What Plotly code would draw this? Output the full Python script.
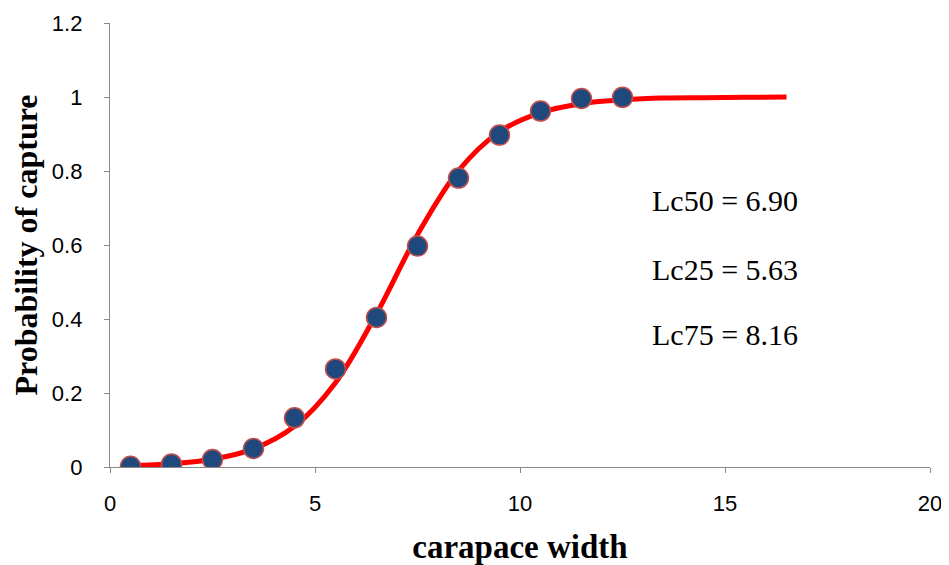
import plotly.graph_objects as go

# Observed points
obs_x = [0.5, 1.5, 2.5, 3.5, 4.5, 5.5, 6.5, 7.5, 8.5, 9.5, 10.5, 11.5, 12.5]
obs_y = [0.002, 0.008, 0.020, 0.050, 0.133, 0.265, 0.404, 0.597, 0.781, 0.897, 0.962, 0.996, 0.999]

# Fitted curve
fit_x = [0.5, 1.5, 2.5, 3.5, 4.5, 5.5, 6.5, 7.5, 8.5, 9.5, 10.5, 11.5, 12.5, 13.5, 14.5, 15.5, 16.5]
fit_y = [0.004, 0.009, 0.021, 0.049, 0.110, 0.228, 0.414, 0.628, 0.801, 0.906, 0.958, 0.982, 0.992, 0.997, 0.998, 0.999, 1.000]

labels = ["Lc50 = 6.90", "Lc25 = 5.63", "Lc75 = 8.16"]
label_y = [0.720, 0.534, 0.358]

fig = go.Figure()
fig.add_trace(go.Scatter(x=fit_x, y=fit_y, mode="lines",
                         line=dict(color="#FF0000", width=5, shape="spline"),
                         showlegend=False))
fig.add_trace(go.Scatter(x=obs_x, y=obs_y, mode="markers",
                         marker=dict(size=20, color="#1F497D",
                                     line=dict(color="#C0504D", width=1.5)),
                         showlegend=False))

for t, yv in zip(labels, label_y):
    fig.add_annotation(x=13.18, y=yv, text=t, showarrow=False, xanchor="left",
                       font=dict(family="Liberation Serif", size=30, color="#000000"))

axis_common = dict(showgrid=False, zeroline=False, showline=True, linecolor="#888888",
                   linewidth=1.3, ticks="outside", ticklen=5, tickcolor="#888888",
                   automargin=False,
                   tickfont=dict(family="Liberation Sans", size=22, color="#000000"))

fig.update_xaxes(range=[0, 20], tickvals=[0, 5, 10, 15, 20], ticklabelstandoff=11,
                 title=dict(text="<b>carapace width</b>", standoff=22,
                            font=dict(family="Liberation Serif", size=33, color="#000000")),
                 **axis_common)
fig.update_yaxes(range=[0, 1.2], tickvals=[0, 0.2, 0.4, 0.6, 0.8, 1, 1.2],
                 ticktext=["0", "0.2", "0.4", "0.6", "0.8", "1", "1.2"], ticklabelstandoff=17,
                 title=dict(text="<b>Probability of capture</b>", standoff=20,
                            font=dict(family="Liberation Serif", size=32, color="#000000")),
                 **axis_common)

fig.update_layout(width=941, height=557, plot_bgcolor="white", paper_bgcolor="white",
                  margin=dict(l=102, r=19, t=15, b=98))
fig.write_html("out.html")
